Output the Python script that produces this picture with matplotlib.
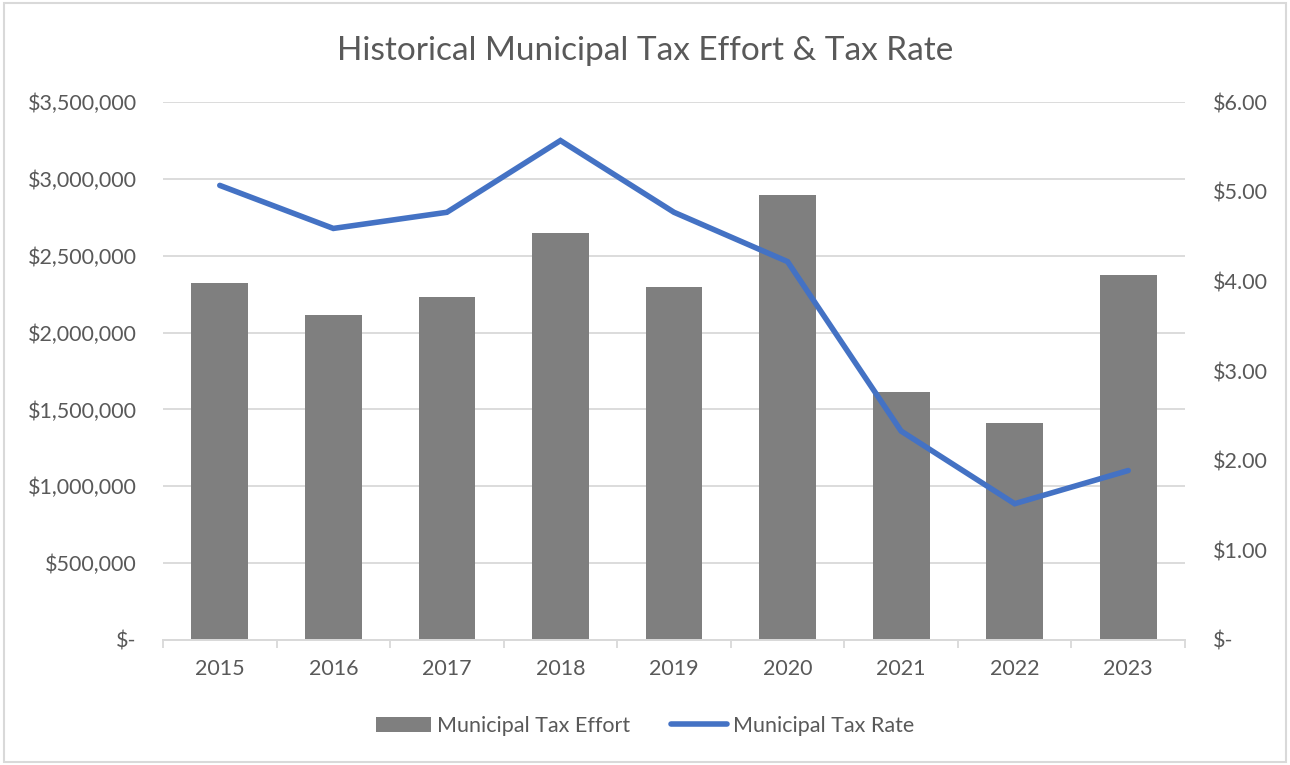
import matplotlib
matplotlib.use("Agg")
import matplotlib.pyplot as plt
from matplotlib.ticker import FuncFormatter, MultipleLocator, FixedLocator
from matplotlib.patches import Rectangle
import numpy as np

years = ["2015", "2016", "2017", "2018", "2019", "2020", "2021", "2022", "2023"]
tax_effort = [2325000, 2114000, 2231000, 2648000, 2296000, 2895000, 1613000, 1412000, 2374000]
tax_rate = [5.07, 4.59, 4.77, 5.57, 4.77, 4.22, 2.33, 1.52, 1.89]

plt.rcParams['font.family'] = ['Lato', 'DejaVu Sans']
txt = '#595959'
fs = 15.5

fig = plt.figure(figsize=(12.9, 7.65), dpi=100)
fig.patches.append(Rectangle((0.003, 0.004), 0.994, 0.992, transform=fig.transFigure,
                             fill=False, edgecolor='#d9d9d9', linewidth=1.5))
ax = fig.add_axes([163/1290, 125/765, (1185-163)/1290, (640-102)/765])
ax2 = ax.twinx()

x = np.arange(len(years))
ax.bar(x, tax_effort, width=0.5, color='#7f7f7f', label='Municipal Tax Effort', zorder=2)
ax2.plot(x, tax_rate, color='#4472c4', linewidth=4, solid_capstyle='round',
         solid_joinstyle='miter', label='Municipal Tax Rate', zorder=3)

ax.set_xlim(-0.5, len(years) - 0.5)
ax.set_ylim(0, 3500000)
ax2.set_ylim(0, 6)
ax.yaxis.set_major_locator(MultipleLocator(500000))
ax2.yaxis.set_major_locator(MultipleLocator(1))

ax.yaxis.set_major_formatter(FuncFormatter(lambda v, p: "$-" if v == 0 else f"${v:,.0f}"))
ax2.yaxis.set_major_formatter(FuncFormatter(lambda v, p: "$-" if v == 0 else f"${v:.2f}"))

ax.grid(axis='y', color='#d9d9d9', linewidth=1.3, zorder=0)
ax.set_axisbelow(True)
for a in (ax, ax2):
    for s in ('top', 'left', 'right'):
        a.spines[s].set_visible(False)
    a.spines['bottom'].set_color('#d9d9d9')
    a.spines['bottom'].set_linewidth(1.3)

ax.set_xticks(x)
ax.set_xticklabels(years)
ax.xaxis.set_minor_locator(FixedLocator(np.arange(-0.5, len(years), 1.0)))
ax.tick_params(axis='x', which='major', length=0, pad=14, labelsize=fs, labelcolor=txt)
ax.tick_params(axis='x', which='minor', length=6, color='#d9d9d9', width=1.3)
ax.tick_params(axis='y', length=0, pad=19, labelsize=fs, labelcolor=txt)
ax2.tick_params(axis='y', length=0, pad=20, labelsize=fs, labelcolor=txt)

fig.text(0.5, 1 - 51/765, "Historical Municipal Tax Effort & Tax Rate", ha='center', va='center',
         fontsize=24, color=txt)

h1, l1 = ax.get_legend_handles_labels()
h2, l2 = ax2.get_legend_handles_labels()
fig.legend(h1 + h2, l1 + l2, loc='center', bbox_to_anchor=(0.5, 1 - 726/765), ncol=2,
           frameon=False, fontsize=fs, labelcolor=txt, handlelength=2.56, handletextpad=0.3,
           columnspacing=1.9)

fig.savefig("out.png", dpi=100)
